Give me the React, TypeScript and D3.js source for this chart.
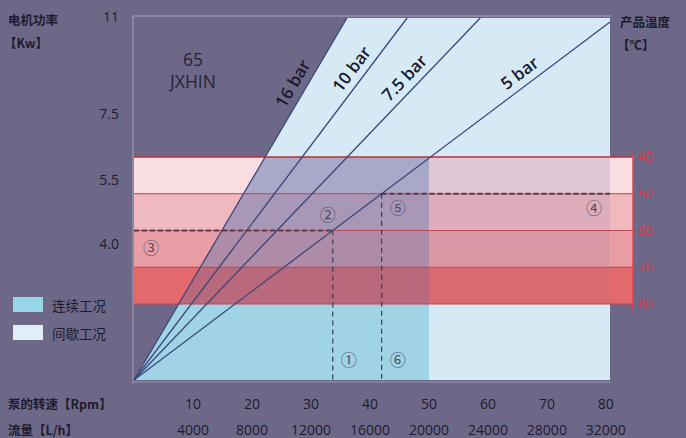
import React from 'react';
import * as d3 from 'd3';

// ---- data ----
const rpmTicks = [10, 20, 30, 40, 50, 60, 70, 80];
const flowTicks = ['4000', '8000', '12000', '16000', '20000', '24000', '28000', '32000'];
const powerTicks = [11, 7.5, 5.5, 4.0];
const powerTickLabels = ['11', '7.5', '5.5', '4.0'];
const tempTicks = [40, 50, 60, 70, 80];
const pressureLabels = ['16 bar', '10 bar', '7.5 bar', '5 bar'];
// rpm at which each pressure line reaches 11 kW
const rpmAtMaxPower = [36.1, 46.3, 58.7, 81.6];
const bandTemps: [number, number][] = [[40, 50], [50, 60], [60, 70], [70, 80]];
const bandColors = ['#f9dde1', '#f0b9c0', '#e99ea5', '#e3696c'];
const continuousMaxRpm = 50;
const maxRpm = 80.7;
const maxPower = 11;
const legendItems = ['连续工况', '间歇工况'];
// markers: temperature line intersecting the 5 bar line
const markerTempA = 60; // ② / ① / ③
const markerTempB = 50; // ⑤ / ⑥ / ④

const W = 686, H = 438;
const BG = '#6e6888';
const TXT = '#1d1b2e';

export default function App() {
  const x = d3.scaleLinear().domain([0, maxRpm]).range([134, 610]);
  const p = d3.scaleLinear().domain([0, maxPower]).range([380, 18]);
  const pLabel = d3.scaleLinear().domain([0, 4, 5.5, 7.5, 11]).range([380, 245, 181, 115, 18]);
  const t = d3.scaleLinear().domain([40, 80]).range([157, 304]);
  const bandRight = 633;

  const x0 = x(0), y0 = p(0);
  const lineXAt = (i: number, y: number) => x((p.invert(y) / maxPower) * rpmAtMaxPower[i]);
  const lineEnd = (i: number) => {
    const r = rpmAtMaxPower[i];
    if (r <= maxRpm) return [x(r), p(maxPower)];
    return [x(maxRpm), p((maxPower * maxRpm) / r)];
  };

  const xr = x(maxRpm), yTop = p(maxPower);
  const xc = x(continuousMaxRpm);
  const lightPoly = [[x0, y0], [x(rpmAtMaxPower[0]), yTop], [xr, yTop], [xr, y0]];
  const yBandTop = t(tempTicks[0]);
  const yBandBot = t(tempTicks[tempTicks.length - 1]);
  const medPoly = [[x0, y0], [lineXAt(0, yBandTop), yBandTop], [xc, yBandTop], [xc, y0]];
  const line = d3.line();

  const darkAlpha = [0.45, 0.42, 0.36, 0.26];
  const lightAlpha = [0.2, 0.16, 0.13, 0.08];
  const labelPower = [8.8, 9.2, 8.9, 9.0];

  const yA = t(markerTempA), xA = lineXAt(3, yA);
  const yB = t(markerTempB), xB = lineXAt(3, yB);

  const circ = { fontFamily: '"Noto Sans CJK SC", "DejaVu Sans"', fontSize: 16, fill: '#4f4d66' } as const;

  return (
    <svg width={W} height={H} style={{ position: 'absolute', left: 0, top: 0 }}>
      <rect width={W} height={H} fill={BG} />

      {/* frame */}
      <line x1={133} y1={16} x2={611} y2={16} stroke="#9591ad" strokeWidth={1.5} />
      <line x1={133} y1={16} x2={133} y2={384} stroke="#9591ad" strokeWidth={1.5} />
      <line x1={133} y1={382} x2={611} y2={382} stroke="#8a86a4" strokeWidth={1.5} />

      {/* working regions */}
      <path d={line(lightPoly as any) + 'Z'} fill="#d6eaf6" />
      <path d={line(medPoly as any) + 'Z'} fill="#a1d3e7" />

      {/* temperature bands */}
      {bandTemps.map(([a, b], k) => (
        <rect key={'b' + k} x={134} y={t(a)} width={bandRight - 134} height={t(b) - t(a)} fill={bandColors[k]} />
      ))}
      {bandTemps.map(([a, b], k) => {
        const yt = t(a), yb = t(b);
        const poly = [[lineXAt(0, yt), yt], [xc, yt], [xc, yb], [lineXAt(0, yb), yb]];
        return (
          <g key={'o' + k}>
            <path d={line(poly as any) + 'Z'} fill="rgb(70,105,170)" fillOpacity={darkAlpha[k]} />
            <rect x={xc} y={yt} width={xr - xc} height={yb - yt} fill="rgb(125,115,160)" fillOpacity={lightAlpha[k]} />
          </g>
        );
      })}
      {tempTicks.map((v, k) => (
        <line key={'tl' + k} x1={134} x2={bandRight} y1={t(v)} y2={t(v)}
          stroke={k === 0 ? '#b8323c' : '#c04550'} strokeWidth={k === 0 ? 1.6 : 1.1} />
      ))}
      <line x1={bandRight} x2={bandRight} y1={yBandTop - 3} y2={yBandBot + 6} stroke="#e0404c" strokeWidth={1.4} />

      {/* pressure lines */}
      {rpmAtMaxPower.map((_, i) => {
        const [ex, ey] = lineEnd(i);
        return <line key={'pl' + i} x1={x0} y1={y0} x2={ex} y2={ey} stroke="#3d4679" strokeWidth={1.3} />;
      })}
      {pressureLabels.map((lab, i) => {
        const [ex, ey] = lineEnd(i);
        const ang = Math.atan2(ey - y0, ex - x0);
        const yl = p(labelPower[i]);
        const xl = lineXAt(i, yl);
        const off = 12;
        const px = xl + Math.sin(ang) * off;
        const py = yl - Math.cos(ang) * off;
        return (
          <text key={'lab' + i} x={px} y={py} textAnchor="middle" dominantBaseline="middle"
            transform={`rotate(${(ang * 180) / Math.PI},${px},${py})`}
            fontFamily='"Open Sans", "Noto Sans", sans-serif' fontSize={17} fontWeight={600} fill="#1a192c">{lab}</text>
        );
      })}

      {/* dashed markers */}
      <line x1={134} x2={xA} y1={yA} y2={yA} stroke="#5a3a4c" strokeWidth={2} strokeDasharray="5,3" />
      <line x1={xA} x2={xA} y1={yA} y2={382} stroke="#3e3c55" strokeWidth={1.2} strokeDasharray="5,4" />
      <line x1={xB} x2={xr} y1={yB} y2={yB} stroke="#5a3a4c" strokeWidth={2} strokeDasharray="5,3" />
      <line x1={xB} x2={xB} y1={yB} y2={382} stroke="#3e3c55" strokeWidth={1.2} strokeDasharray="5,4" />
      <text x={xA + 16} y={362} textAnchor="middle" dominantBaseline="middle" {...circ}>①</text>
      <text x={xA - 5} y={yA - 14} textAnchor="middle" dominantBaseline="middle" {...circ}>②</text>
      <text x={151} y={yA + 19} textAnchor="middle" dominantBaseline="middle" {...circ}>③</text>
      <text x={xr - 16} y={yB + 16} textAnchor="middle" dominantBaseline="middle" {...circ}>④</text>
      <text x={xB + 16} y={yB + 16} textAnchor="middle" dominantBaseline="middle" {...circ}>⑤</text>
      <text x={xB + 16} y={362} textAnchor="middle" dominantBaseline="middle" {...circ}>⑥</text>

      {/* model text */}
      <text x={193} y={66} textAnchor="middle" fontFamily='"Open Sans", sans-serif' fontSize={17.5} fill="#24223a">65</text>
      <text x={193} y={88} textAnchor="middle" fontFamily='"Open Sans", sans-serif' fontSize={17.5} fill="#24223a">JXHIN</text>

      {/* left axis */}
      <text x={8} y={25} fontFamily='"Noto Sans CJK SC"' fontSize={12.5} fontWeight={700} fill={TXT}>电机功率</text>
      <text x={4} y={48} fontFamily='"Noto Sans CJK SC"' fontSize={12.5} fontWeight={700} fill={TXT}>【Kw】</text>
      {powerTicks.map((v, k) => (
        <text key={'pt' + k} x={119} y={pLabel(v)} textAnchor="end" dominantBaseline="middle"
          fontFamily='"Open Sans", sans-serif' fontSize={14} fill={TXT}>{powerTickLabels[k]}</text>
      ))}

      {/* right axis */}
      <text x={620} y={27} fontFamily='"Noto Sans CJK SC"' fontSize={12.5} fontWeight={700} fill={TXT}>产品温度</text>
      <text x={617} y={50} fontFamily='"Noto Sans CJK SC"' fontSize={12.5} fontWeight={700} fill={TXT}>【℃】</text>
      {tempTicks.map((v, k) => (
        <text key={'tt' + k} x={638} y={t(v) + 1} dominantBaseline="middle"
          fontFamily='"Open Sans", sans-serif' fontSize={13} fill="#e8323f">{v}</text>
      ))}

      {/* bottom axis */}
      <text x={8} y={409} fontFamily='"Noto Sans CJK SC"' fontSize={12.5} fontWeight={700} fill={TXT}>泵的转速【Rpm】</text>
      <text x={8} y={435} fontFamily='"Noto Sans CJK SC"' fontSize={12.5} fontWeight={700} fill={TXT}>流量【L/h】</text>
      {rpmTicks.map((v, k) => (
        <g key={'xt' + k}>
          <text x={x(v)} y={409} textAnchor="middle" fontFamily='"Open Sans", sans-serif' fontSize={14} fill={TXT}>{v}</text>
          <text x={x(v)} y={435} textAnchor="middle" fontFamily='"Open Sans", sans-serif' fontSize={14} fill={TXT}>{flowTicks[k]}</text>
        </g>
      ))}

      {/* legend */}
      {legendItems.map((lab, k) => (
        <g key={'lg' + k}>
          <rect x={13} y={297 + k * 28} width={30} height={15} fill={k === 0 ? '#96d6e9' : '#e1eef8'} />
          <text x={52} y={311 + k * 28} fontFamily='"Noto Sans CJK SC"' fontSize={13.5} fill={TXT}>{lab}</text>
        </g>
      ))}
    </svg>
  );
}
